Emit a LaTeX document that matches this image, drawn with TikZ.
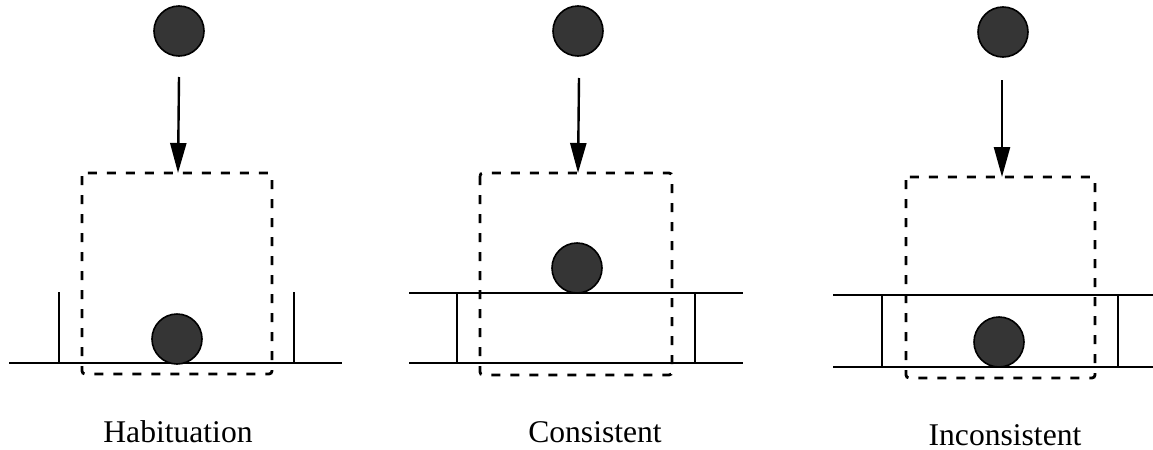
\documentclass[tikz,border=0pt]{standalone}
\usepackage{fontspec}
\setmainfont{Liberation Serif}
\usetikzlibrary{arrows.meta}
\definecolor{ballgray}{HTML}{353535}
\begin{document}
\begin{tikzpicture}[x=0.5pt,y=-0.5pt,
  ball/.style={circle,draw=black,fill=ballgray,line width=0.8pt,minimum size=25pt,inner sep=0pt},
  solidline/.style={line width=1.3pt},
  dropline/.style={line width=1.2pt,-{Triangle[length=15pt,width=8pt]}},
  screenbox/.style={line width=1.4pt,dash pattern=on 4.5pt off 5pt,rounded corners=1.5pt},
  caption/.style={font=\fontsize{15.8}{18}\selectfont,anchor=base,inner sep=0pt}]
\useasboundingbox (0,0) rectangle (1153,450);

% ---------- Panel 1: Habituation ----------
\node[ball] (b1top) at (179,31) {};
\coordinate (a1s) at (179,77);
\coordinate (r1t) at (178,173);
\draw[solidline] (9,363) -- (342,363);
\draw[solidline] (59,292) -- (59,363);
\draw[solidline] (294,292) -- (294,363);
\node[ball] (b1low) at (177,339) {};
\draw[screenbox] (82,173) rectangle (272,374);
\draw[dropline] (a1s) -- (r1t);
\node[caption] (c1) at (178,442) {Habituation};

% ---------- Panel 2: Consistent ----------
\node[ball] (b2top) at (578,31) {};
\coordinate (a2s) at (579,78);
\coordinate (r2t) at (578,173);
\draw[solidline] (409,293) -- (743,293);
\draw[solidline] (409,363) -- (743,363);
\draw[solidline] (457,293) -- (457,363);
\draw[solidline] (695,293) -- (695,363);
\node[ball] (b2low) at (577,268) {};
\draw[screenbox] (480,173) rectangle (672,375);
\draw[dropline] (a2s) -- (r2t);
\node[caption] (c2) at (595,442) {Consistent};

% ---------- Panel 3: Inconsistent ----------
\node[ball] (b3top) at (1003,32) {};
\coordinate (a3s) at (1002,80);
\coordinate (r3t) at (1002,177);
\draw[solidline] (833,295) -- (1153,295);
\draw[solidline] (833,367) -- (1153,367);
\draw[solidline] (882,295) -- (882,367);
\draw[solidline] (1118,295) -- (1118,367);
\node[ball] (b3low) at (999,342) {};
\draw[screenbox] (906,177) rectangle (1095,378);
\draw[dropline] (a3s) -- (r3t);
\node[caption] (c3) at (1005,445) {Inconsistent};
\end{tikzpicture}
\end{document}
